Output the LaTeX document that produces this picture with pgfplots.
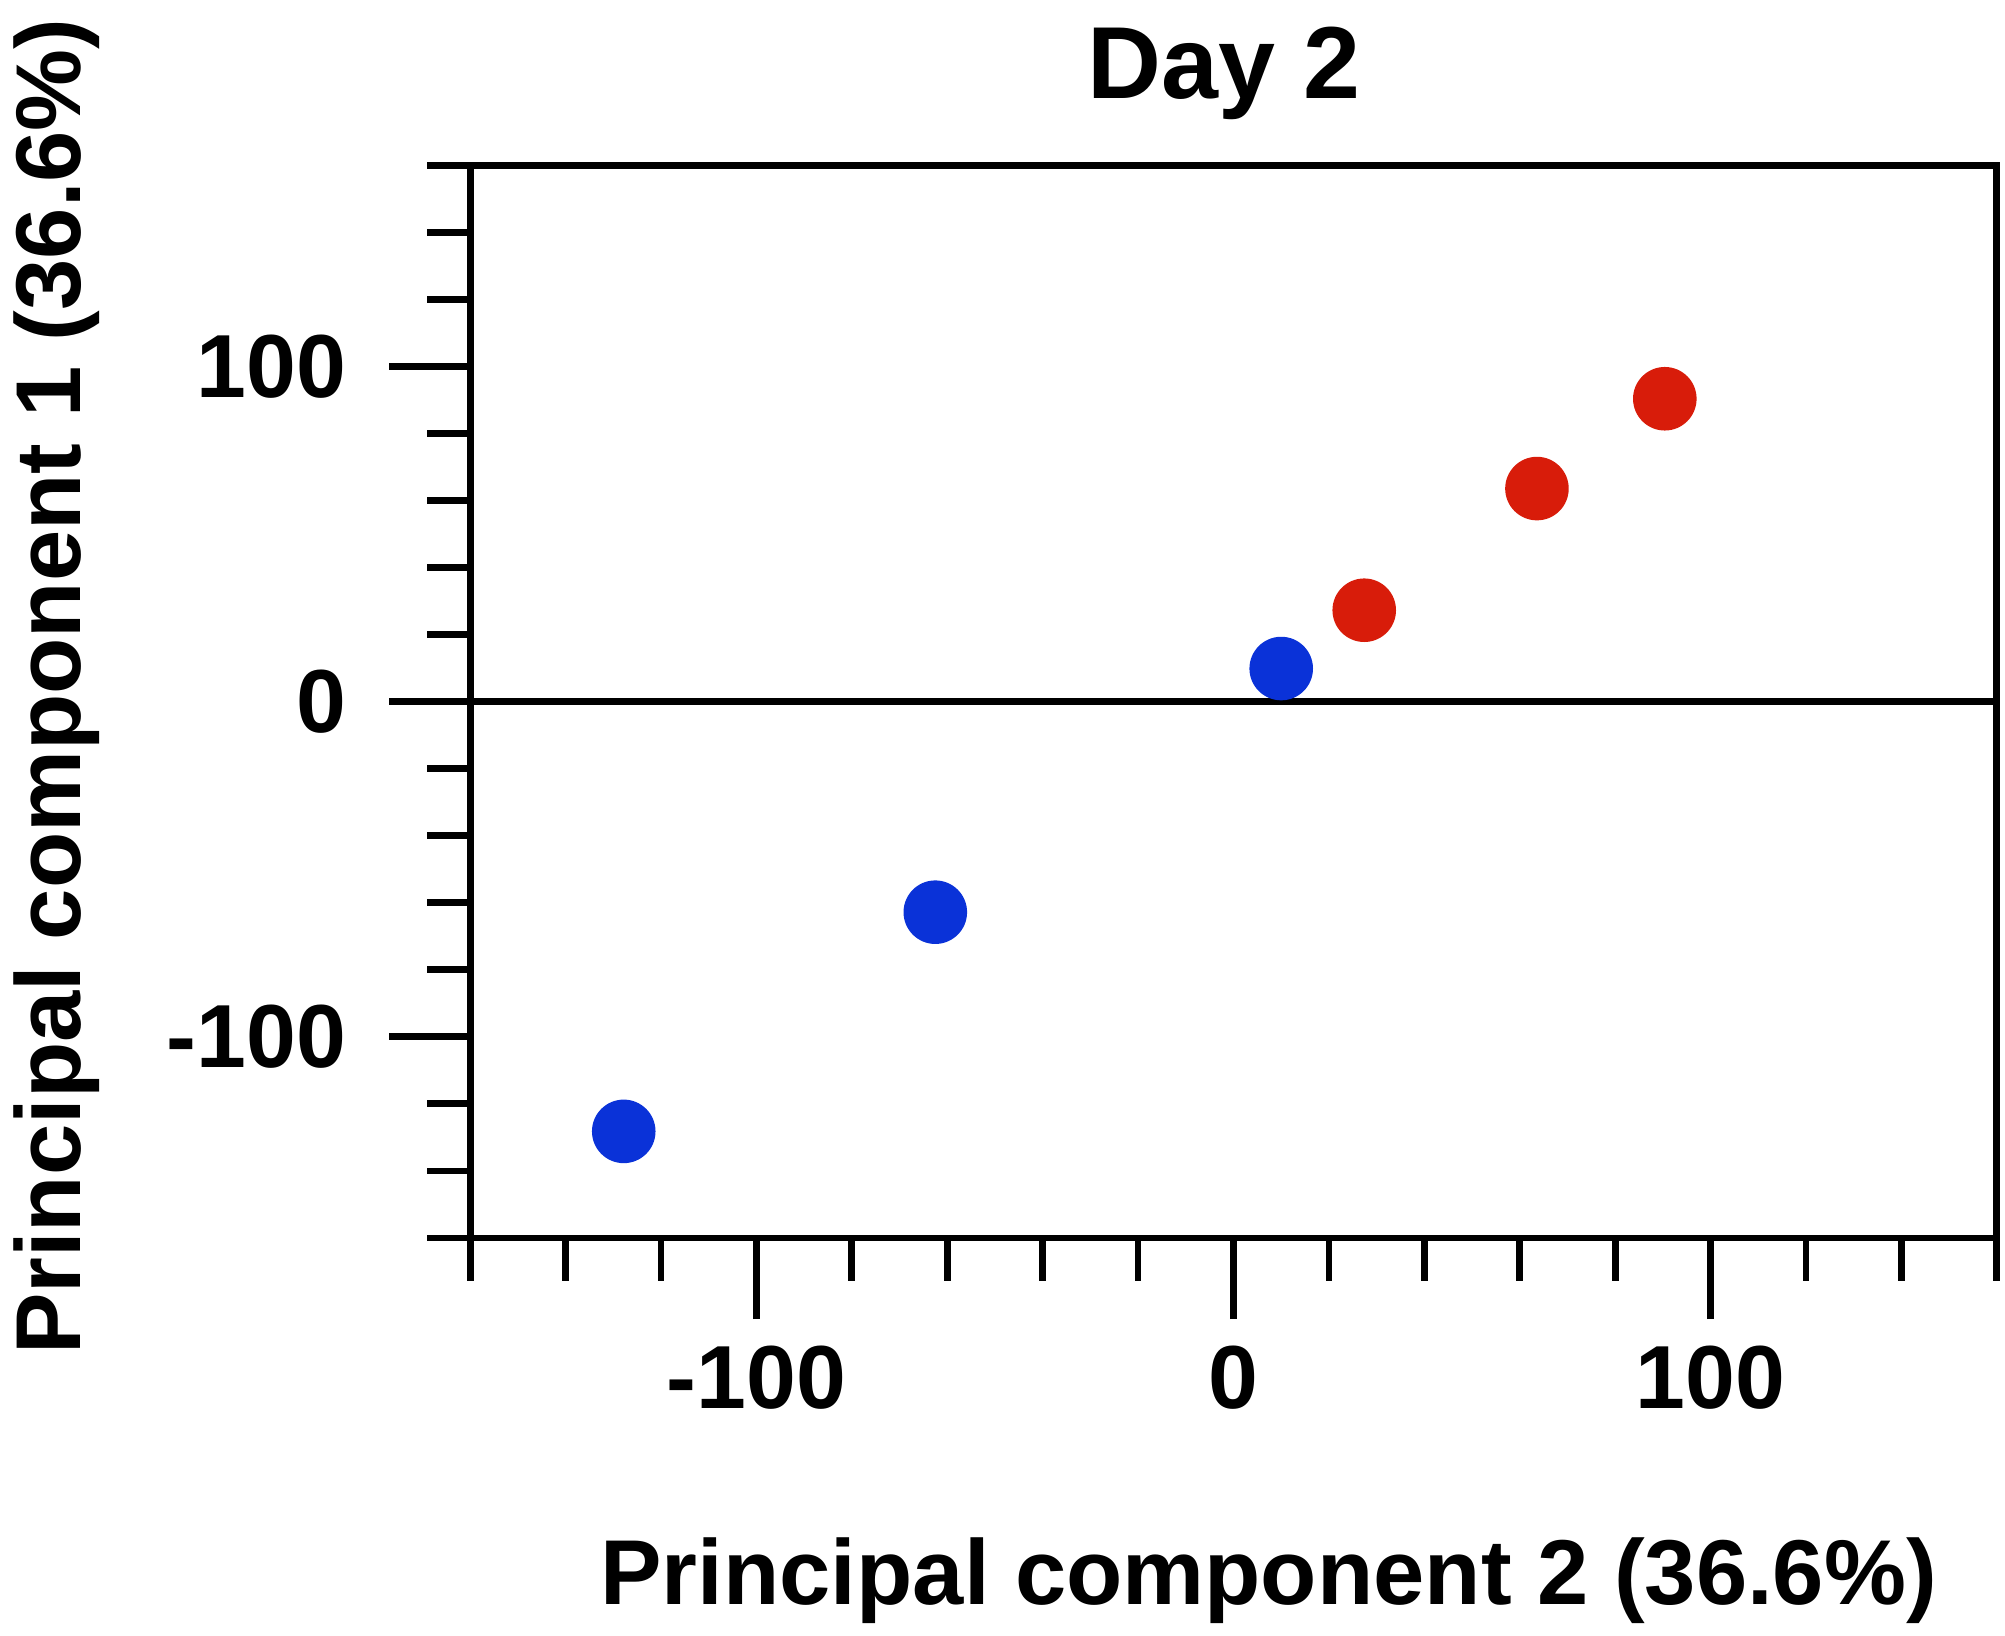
\documentclass[border=0pt]{standalone}
\usepackage{pgfplots}
\pgfplotsset{compat=1.18}
\usepackage{fontspec}
\setmainfont{Liberation Sans}
\definecolor{ptblue}{RGB}{10,50,216}
\definecolor{ptred}{RGB}{216,28,10}
\begin{document}
\begin{tikzpicture}
\begin{axis}[
  scale only axis, width=357.9pt, height=251.4pt,
  xmin=-160, xmax=160, ymin=-160, ymax=160,
  xtick={-100,0,100}, xticklabels={-100,0,100},
  ytick={-100,0,100}, yticklabels={-100,0,100},
  minor xtick={-160,-140,...,160}, minor ytick={-160,-140,...,160},
  tick align=outside, xtick pos=bottom, ytick pos=left,
  major tick length=19pt, minor tick length=10pt,
  axis line style={line width=1.6pt, black},
  major tick style={line width=1.6pt, black},
  minor tick style={line width=1.6pt, black},
  tick label style={font=\fontsize{21}{24}\selectfont\bfseries},
  xticklabel style={anchor=base, yshift=-21pt},
  yticklabel style={anchor=east, xshift=-6.5pt},
  clip=false,
]
\addplot[black, line width=1.6pt] coordinates {(-160,0) (160,0)};
\addplot[only marks, mark=*, mark size=7.25pt, color=ptblue, fill=ptblue] coordinates {
  (-127.8,-128.2) (-62.5,-62.8) (10.0,9.9)
};
\addplot[only marks, mark=*, mark size=7.25pt, color=ptred, fill=ptred] coordinates {
  (27.4,27.3) (63.6,63.6) (90.4,90.4)
};
\coordinate (bl) at (rel axis cs:0,0);
\coordinate (tr) at (rel axis cs:1,1);
\coordinate (tpos) at (rel axis cs:0.4937,1);
\coordinate (xpos) at (rel axis cs:0.523,0);
\coordinate (ypos) at (rel axis cs:0,0.514);
\end{axis}
\node[anchor=base, font=\fontsize{24}{28}\selectfont\bfseries, inner sep=0pt] at ([yshift=15.7pt]tpos) {Day 2};
\node[anchor=base, font=\fontsize{21.6}{26}\selectfont\bfseries, inner sep=0pt] at ([yshift=-86pt]xpos) {Principal component 2 (36.6\%)};
\node[anchor=base, rotate=90, font=\fontsize{21.6}{26}\selectfont\bfseries, inner sep=0pt] at ([xshift=-91.3pt]ypos) {Principal component 1 (36.6\%)};
\pgfresetboundingbox
\path[use as bounding box] ([xshift=-110.2pt,yshift=-93.3pt]bl) rectangle ([xshift=1.9pt,yshift=38.8pt]tr);
\end{tikzpicture}
\end{document}
